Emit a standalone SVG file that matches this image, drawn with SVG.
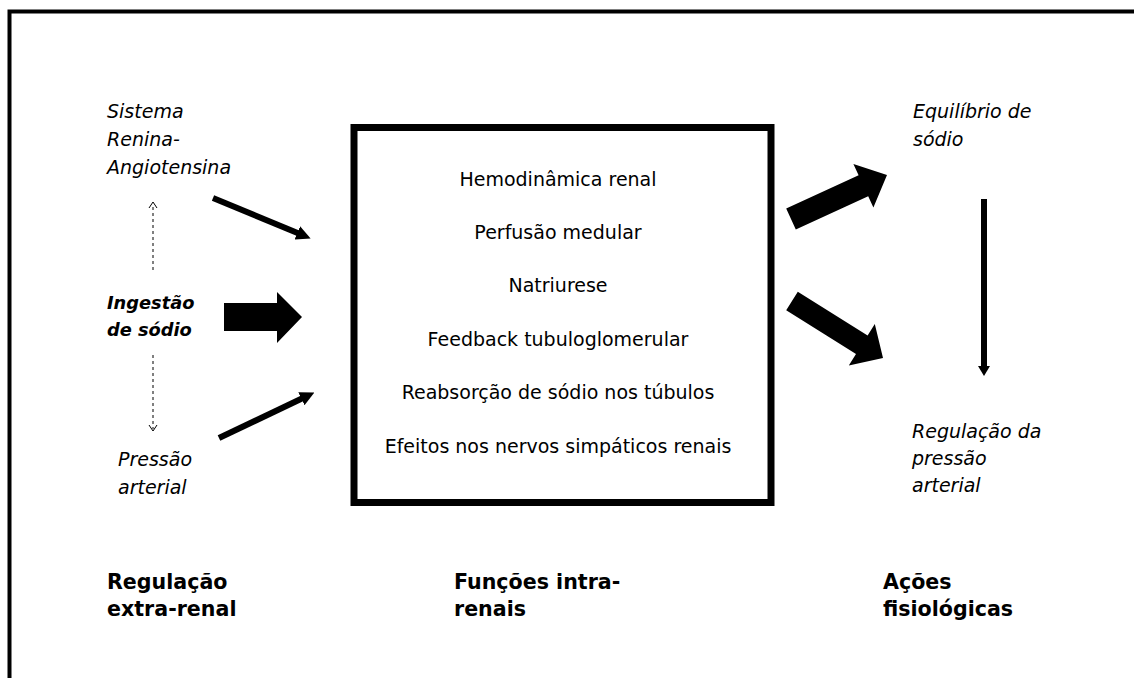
<svg xmlns="http://www.w3.org/2000/svg" width="1134" height="678" viewBox="0 0 1134 678">
<style>
  text { font-family: "DejaVu Sans", "Liberation Sans", sans-serif; fill: #000; }
  .it { font-style: italic; font-size: 19px; }
  .ctr { font-size: 19px; text-anchor: middle; }
  .bi { font-style: italic; font-weight: bold; font-size: 17.8px; }
  .hd { font-weight: bold; font-size: 20.6px; }
  .thick { stroke: #000; stroke-width: 6; fill: none; }
  .dash { stroke: #000; stroke-width: 1; stroke-dasharray: 3 3; fill: none; }
  .chev { stroke: #000; stroke-width: 1; fill: none; }
  .big { fill: #000; stroke: none; }
</style>
<defs>
  <marker id="head" viewBox="0 0 10 10" refX="2" refY="5" markerWidth="2.4" markerHeight="2.4" orient="auto" markerUnits="strokeWidth">
    <path d="M0,0 L10,5 L0,10 z" fill="#000"/>
  </marker>
</defs>
<rect width="1134" height="678" fill="#fff"/>
<path d="M9.5,678 V11.5 H1134" fill="none" stroke="#000" stroke-width="4"/>

<g id="box-funcoes">
  <rect x="354" y="127.5" width="417" height="375" fill="none" stroke="#000" stroke-width="7"/>
  <text class="ctr" x="558" y="186">Hemodinâmica renal</text>
  <text class="ctr" x="558" y="239">Perfusão medular</text>
  <text class="ctr" x="558" y="292">Natriurese</text>
  <text class="ctr" x="558" y="346">Feedback tubuloglomerular</text>
  <text class="ctr" x="558" y="399">Reabsorção de sódio nos túbulos</text>
  <text class="ctr" x="558" y="453">Efeitos nos nervos simpáticos renais</text>
</g>

<g id="node-sra">
  <text class="it" x="107" y="118">Sistema</text>
  <text class="it" x="107" y="146">Renina-</text>
  <text class="it" x="107" y="174">Angiotensina</text>
</g>
<g id="node-ingestao">
  <text class="bi" x="107" y="309">Ingestão</text>
  <text class="bi" x="107" y="336">de sódio</text>
</g>
<g id="node-pressao">
  <text class="it" x="118" y="466">Pressão</text>
  <text class="it" x="118" y="494">arterial</text>
</g>
<g id="node-equilibrio">
  <text class="it" x="913" y="118">Equilíbrio de</text>
  <text class="it" x="913" y="146">sódio</text>
</g>
<g id="node-regulacao-pa">
  <text class="it" x="912" y="438">Regulação da</text>
  <text class="it" x="912" y="465">pressão</text>
  <text class="it" x="912" y="492">arterial</text>
</g>
<g id="label-extra">
  <text class="hd" x="107" y="589">Regulação</text>
  <text class="hd" x="107" y="616">extra-renal</text>
</g>
<g id="label-intra">
  <text class="hd" x="454" y="589">Funções intra-</text>
  <text class="hd" x="454" y="616">renais</text>
</g>
<g id="label-acoes">
  <text class="hd" x="883" y="589">Ações</text>
  <text class="hd" x="883" y="616">fisiológicas</text>
</g>

<g id="connectors">
  <line class="thick" x1="213" y1="198" x2="300" y2="234" marker-end="url(#head)"/>
  <line class="thick" x1="219" y1="438" x2="304" y2="397.5" marker-end="url(#head)"/>
  <polygon class="big" points="224,303 277,303 277,292 302,317 277,343 277,331 224,331"/>
  <polygon class="big" points="786.2,208.5 858.6,175.3 853.4,164 887,175 873.4,207.6 868.2,196.3 795.8,229.5"/>
  <polygon class="big" points="797.8,291.7 867.6,335.4 874.8,323.9 883,358 848.8,365.5 856,354 786.2,310.3"/>
  <line x1="984" y1="199" x2="984" y2="368" stroke="#000" stroke-width="6"/>
  <polygon class="big" points="978,366 990,366 984,376"/>
  <line class="dash" x1="153" y1="270" x2="153" y2="204"/>
  <polyline class="chev" points="149,208 153,202 157,208"/>
  <line class="dash" x1="153" y1="355" x2="153" y2="429"/>
  <polyline class="chev" points="149,425 153,431 157,425"/>
</g>
</svg>
